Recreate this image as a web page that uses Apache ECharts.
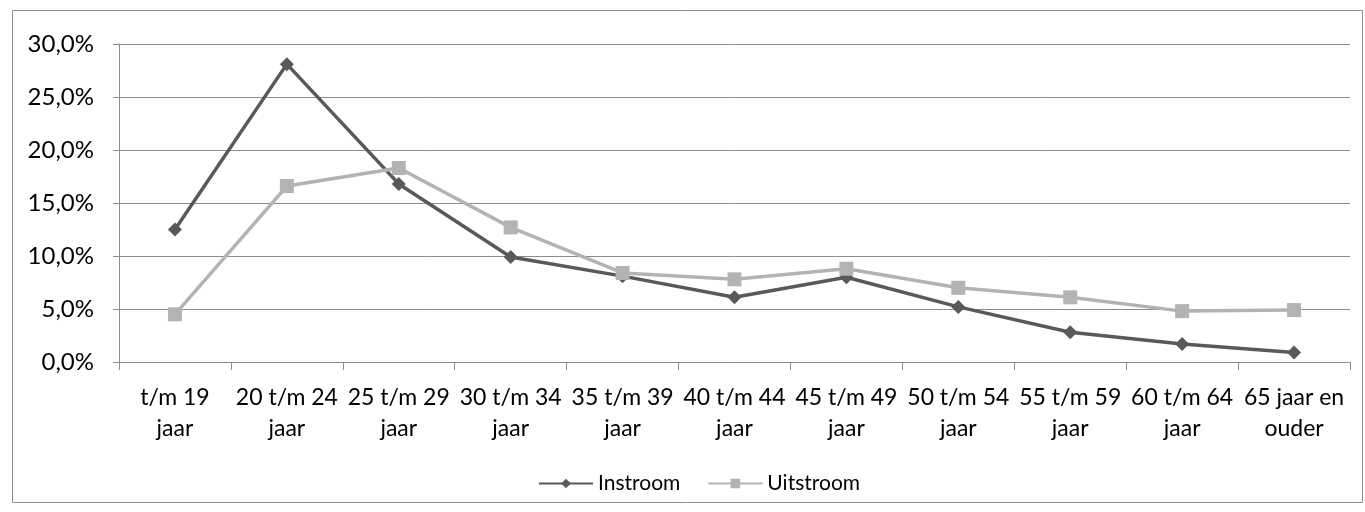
<!DOCTYPE html>
<html>
<head>
<meta charset="utf-8">
<script src="https://cdn.jsdelivr.net/npm/echarts@6/dist/echarts.min.js"></script>
<style>
html,body{margin:0;padding:0;background:#fff;}
#c{width:1365px;height:512px;}
</style>
</head>
<body>
<div id="c"></div>
<script>
const categories = ['t/m 19 jaar','20 t/m 24 jaar','25 t/m 29 jaar','30 t/m 34 jaar','35 t/m 39 jaar','40 t/m 44 jaar','45 t/m 49 jaar','50 t/m 54 jaar','55 t/m 59 jaar','60 t/m 64 jaar','65 jaar en ouder'];
const instroom = [12.5, 28.1, 16.8, 9.9, 8.1, 6.1, 8.0, 5.2, 2.8, 1.7, 0.9];
const uitstroom = [4.5, 16.6, 18.3, 12.7, 8.4, 7.8, 8.8, 7.0, 6.1, 4.8, 4.9];
const yTicks = {min: 0, max: 30, interval: 5};

const font = 'Lato, "Open Sans", sans-serif';
const chart = echarts.init(document.getElementById('c'));
chart.setOption({
  animation: false,
  textStyle: {fontFamily: font},
  graphic: [{
    type: 'rect', left: 10, top: 8,
    shape: {width: 1350, height: 492},
    style: {fill: 'none', stroke: '#8c8c8c', lineWidth: 1}
  }],
  grid: {left: 119, right: 15, top: 44, bottom: 150},
  legend: {
    top: 468, left: 533,
    itemWidth: 54, itemHeight: 12, itemGap: 27,
    textStyle: {fontFamily: font, fontSize: 21, color: '#000'},
    data: ['Instroom', 'Uitstroom']
  },
  xAxis: {
    type: 'category', data: categories, boundaryGap: true,
    axisLine: {lineStyle: {color: '#8c8c8c', width: 1}},
    axisTick: {show: true, length: 8, lineStyle: {color: '#8c8c8c'}},
    axisLabel: {
      interval: 0, fontFamily: font, fontSize: 23, color: '#000', margin: 20, lineHeight: 31,
      formatter: function (v) { const i = v.lastIndexOf(' '); return v.slice(0, i) + '\n' + v.slice(i + 1); }
    }
  },
  yAxis: {
    type: 'value', min: yTicks.min, max: yTicks.max, interval: yTicks.interval,
    axisLine: {show: true, lineStyle: {color: '#8c8c8c'}},
    axisTick: {show: true, length: 6, lineStyle: {color: '#8c8c8c'}},
    splitLine: {lineStyle: {color: '#8c8c8c', width: 1}},
    axisLabel: {
      fontFamily: font, fontSize: 24, color: '#000', margin: 25,
      formatter: function (v) { return v.toFixed(1).replace('.', ',') + '%'; }
    }
  },
  series: [
    {
      name: 'Instroom', type: 'line', data: instroom,
      symbol: 'diamond', symbolSize: 14,
      lineStyle: {color: '#595959', width: 3.5},
      itemStyle: {color: '#595959'}
    },
    {
      name: 'Uitstroom', type: 'line', data: uitstroom,
      symbol: 'rect', symbolSize: 14,
      lineStyle: {color: '#b3b3b3', width: 3.5},
      itemStyle: {color: '#b3b3b3'}
    }
  ]
});
</script>
</body>
</html>
